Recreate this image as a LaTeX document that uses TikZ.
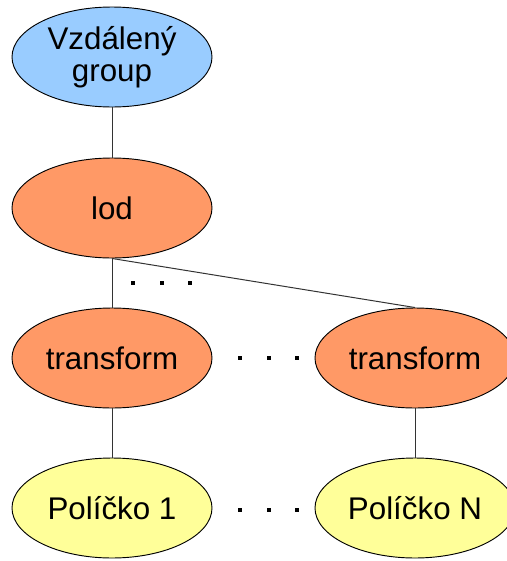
\documentclass[tikz,border=0pt]{standalone}
\usepackage{fontspec}
\setmainfont{Liberation Sans}
\usetikzlibrary{shapes.geometric}
\definecolor{groupblue}{HTML}{99CCFF}
\definecolor{lodorange}{HTML}{FF9966}
\definecolor{cellyellow}{HTML}{FFFF99}
\definecolor{edgegray}{HTML}{333333}
\tikzset{
  blob/.style={ellipse, draw=black, line width=0.7pt, inner sep=0pt,
    minimum width=150pt, minimum height=75pt, align=center,
    font=\fontsize{23.5}{24}\selectfont},
  groupnode/.style={blob, fill=groupblue},
  lodnode/.style={blob, fill=lodorange},
  cellnode/.style={blob, fill=cellyellow},
  link/.style={draw=edgegray, line width=0.75pt},
  dotmark/.style={fill=black}
}
\newcommand{\dotrow}[2]{%
  \foreach \dx in {0,28.5,57}{\fill[dotmark] (#1+\dx-2,#2-2) rectangle (#1+\dx+2,#2+2);}}
\begin{document}
\begin{tikzpicture}[x=0.75pt,y=-0.75pt]
  \useasboundingbox (0,0) rectangle (507,561);
  \node[groupnode] (grp) at (112,57) {Vzdálený\\group};
  \node[lodnode] (lod) at (112,208) {lod};
  \node[lodnode] (tr1) at (112,358) {transform};
  \node[lodnode] (trN) at (415,358) {transform};
  \node[cellnode] (p1) at (112,508) {Políčko 1};
  \node[cellnode] (pN) at (415,508) {Políčko N};
  \draw[link] (grp.south) -- (lod.north);
  \draw[link] (lod.south) -- (tr1.north);
  \draw[link] (lod.south) -- (trN.north);
  \draw[link] (tr1.south) -- (p1.north);
  \draw[link] (trN.south) -- (pN.north);
  \dotrow{133}{283}
  \dotrow{240}{358}
  \dotrow{240}{510}
\end{tikzpicture}
\end{document}
